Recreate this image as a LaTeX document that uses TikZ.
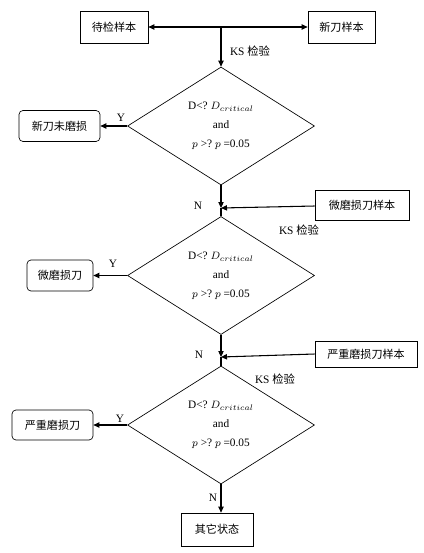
\documentclass[tikz,border=0pt]{standalone}
\usepackage{fontspec}
\setmainfont{Liberation Serif}
\newfontfamily\cjk{Noto Sans CJK SC}
\usetikzlibrary{shapes.geometric,arrows.meta}

\begin{document}
\begin{tikzpicture}[
    x=0.75pt, y=-0.75pt,
    box/.style={rectangle, draw, line width=0.5pt, inner sep=0pt, align=center, font=\cjk\fontsize{8.3}{10}\selectfont},
    state/.style={box, rounded corners=3pt},
    test/.style={diamond, draw, line width=0.5pt, minimum width=140.25pt, minimum height=88.5pt, inner sep=0pt, align=center, font=\fontsize{8.5}{14.25}\selectfont},
    arrow/.style={-{Triangle[length=4.5pt,width=4pt]}, line width=0.8pt},
    lbl/.style={font=\fontsize{8.5}{10}\selectfont}
]
    \useasboundingbox (0,0) rectangle (424,553);

    % Samples
    \node[box, minimum width=51pt, minimum height=24pt] (sample) at (114,27) {待检样本};
    \node[box, minimum width=50.25pt, minimum height=24pt] (newsample) at (341.5,27) {新刀样本};
    \node[box, minimum width=70.5pt, minimum height=22.5pt] (slightsample) at (362,205) {微磨损刀样本};
    \node[box, minimum width=76.5pt, minimum height=19.5pt] (severesample) at (366,354) {严重磨损刀样本};

    % Tests
    \node[test] (test1) at (221,126) {D<?~$D_{critical}$\\and\\$p$ >?~$p$ =0.05};
    \node[test] (test2) at (221,275.5) {D<?~$D_{critical}$\\and\\$p$ >?~$p$ =0.05};
    \node[test] (test3) at (221,425) {D<?~$D_{critical}$\\and\\$p$ >?~$p$ =0.05};

    % States
    \node[state, minimum width=60.75pt, minimum height=23.25pt] (newok) at (59.5,126) {新刀未磨损};
    \node[state, minimum width=49.5pt, minimum height=23.25pt] (slight) at (60,275.5) {微磨损刀};
    \node[state, minimum width=60.75pt, minimum height=22.5pt] (severe) at (52.5,425) {严重磨损刀};
    \node[box, minimum width=54pt, minimum height=24.75pt] (other) at (217,529.5) {其它状态};

    % Junctions
    \coordinate (split) at (221,27);
    \coordinate (join1) at (221,208);
    \coordinate (join2) at (221,357);

    % Arrows
    \draw[arrow] (split) -- (sample);
    \draw[arrow] (split) -- (newsample);
    \draw[arrow] (split) -- (test1.north);

    \draw[arrow] (test1.west) -- (newok);
    \draw[arrow] (test1.south) -- (join1);
    \draw[line width=0.8pt] (join1) -- (test2.north);
    \draw[arrow] (slightsample) -- (join1);

    \draw[arrow] (test2.west) -- (slight);
    \draw[arrow] (test2.south) -- (join2);
    \draw[line width=0.8pt] (join2) -- (test3.north);
    \draw[arrow] (severesample.west) -- (join2);

    \draw[arrow] (test3.west) -- (severe);
    \draw[arrow] (test3.south) -- (test3.south |- other.north);

    % Labels
    \node[lbl] (ks1) at (250,51) {KS {\cjk 检验}};
    \node[lbl] (ks2) at (299,230) {KS {\cjk 检验}};
    \node[lbl] (ks3) at (275,379) {KS {\cjk 检验}};
    \node[lbl] (y1) at (121,118) {Y};
    \node[lbl] (y2) at (113,264) {Y};
    \node[lbl] (y3) at (120,419) {Y};
    \node[lbl] (n1) at (198,206) {N};
    \node[lbl] (n2) at (199,355) {N};
    \node[lbl] (n3) at (213,498) {N};
\end{tikzpicture}
\end{document}
